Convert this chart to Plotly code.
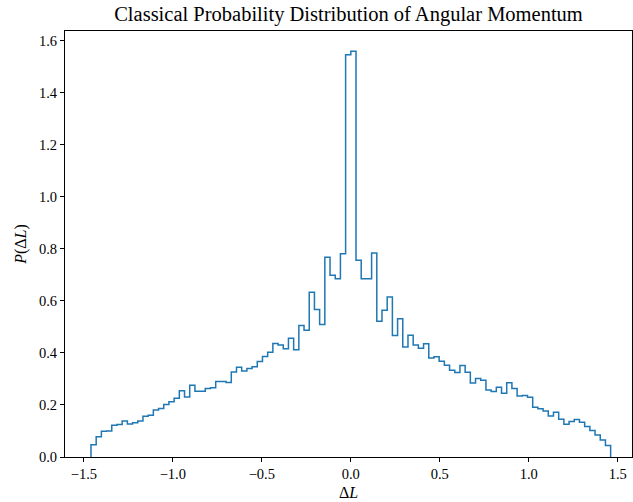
import numpy as np
import plotly.graph_objects as go

# Histogram (density) of Delta L, 100 bins between -1.46 and 1.46
bin_lo = -1.46
bin_hi = 1.46
n_bins = 100
density = [
    0.047, 0.078, 0.099, 0.100, 0.122, 0.125, 0.138, 0.127, 0.132, 0.138,
    0.157, 0.160, 0.181, 0.186, 0.202, 0.212, 0.226, 0.255, 0.231, 0.276,
    0.253, 0.253, 0.263, 0.266, 0.290, 0.290, 0.286, 0.327, 0.345, 0.330,
    0.340, 0.347, 0.367, 0.386, 0.403, 0.436, 0.430, 0.416, 0.456, 0.412,
    0.505, 0.487, 0.633, 0.567, 0.509, 0.768, 0.698, 0.685, 0.781, 1.546,
    1.559, 0.756, 0.685, 0.685, 0.784, 0.522, 0.564, 0.615, 0.467, 0.531,
    0.423, 0.468, 0.430, 0.418, 0.435, 0.380, 0.385, 0.368, 0.353, 0.333,
    0.325, 0.352, 0.326, 0.284, 0.302, 0.295, 0.257, 0.252, 0.268, 0.245,
    0.285, 0.263, 0.234, 0.236, 0.230, 0.191, 0.185, 0.177, 0.158, 0.172,
    0.145, 0.126, 0.136, 0.144, 0.134, 0.117, 0.102, 0.085, 0.065, 0.044,
]
x_ticks = [-1.5, -1.0, -0.5, 0.0, 0.5, 1.0, 1.5]
y_ticks = [0.0, 0.2, 0.4, 0.6, 0.8, 1.0, 1.2, 1.4, 1.6]

edges = np.linspace(bin_lo, bin_hi, n_bins + 1)
xs = [edges[0]] + list(edges)
ys = [0.0] + list(density) + [0.0]

FONT = "Liberation Serif"

fig = go.Figure()
fig.add_trace(go.Scatter(
    x=xs, y=ys, mode="lines", line_shape="hv",
    line=dict(color="#1f77b4", width=1.5), hoverinfo="skip", showlegend=False,
))

fig.update_layout(
    width=633, height=502,
    margin=dict(l=65, r=1, t=31, b=45),
    paper_bgcolor="white", plot_bgcolor="white",
    font=dict(family=FONT, size=14, color="black"),
    title=dict(text="Classical Probability Distribution of Angular Momentum",
               x=0.5, xref="paper", xanchor="center",
               y=1, yref="container", yanchor="top", pad=dict(t=7),
               font=dict(family=FONT, size=20.5, color="black")),
)
fig.update_xaxes(
    range=[-1.606, 1.58], tickvals=x_ticks,
    ticktext=[("\u2212" if v < 0 else "") + f"{abs(v):.1f}" for v in x_ticks],
    ticks="outside", ticklen=4, tickwidth=1, tickcolor="black",
    showgrid=False, zeroline=False, showline=True, linecolor="black", linewidth=1,
    mirror=True, title=dict(text="\u0394<i>L</i>", standoff=5, font=dict(size=16)),
    tickfont=dict(size=14.5),
)
fig.update_yaxes(
    range=[0, 1.637], tickvals=y_ticks, ticktext=[f"{v:.1f}" for v in y_ticks],
    ticks="outside", ticklen=4, tickwidth=1, tickcolor="black",
    showgrid=False, zeroline=False, showline=True, linecolor="black", linewidth=1,
    mirror=True, title=dict(text="<i>P</i>(\u0394<i>L</i>)", standoff=8, font=dict(size=16)),
    tickfont=dict(size=14.5),
)

fig.write_html("out.html")
